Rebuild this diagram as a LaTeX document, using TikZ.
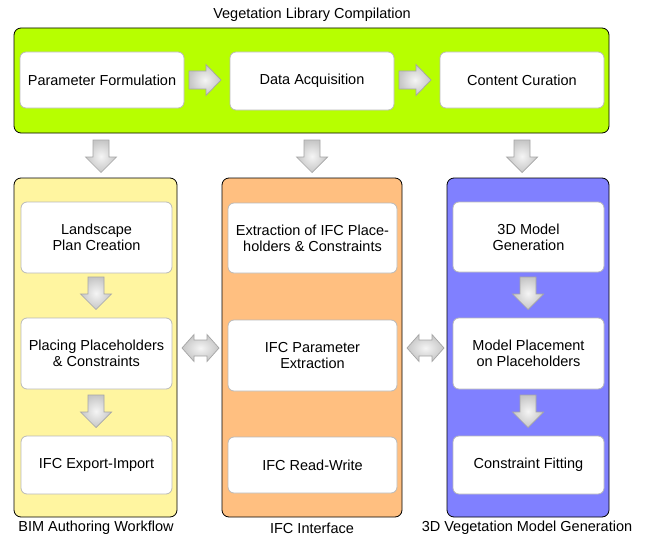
\documentclass[tikz,border=0pt]{standalone}
\usepackage{fontspec}
\setmainfont{Liberation Sans}
\definecolor{limeg}{RGB}{183,255,0}
\definecolor{yell}{RGB}{255,245,160}
\definecolor{oran}{RGB}{255,191,128}
\definecolor{blu}{RGB}{128,128,255}
\definecolor{boxedge}{RGB}{185,185,185}
\definecolor{arrowedge}{RGB}{165,165,165}
\begin{document}
\begin{tikzpicture}[x=1pt,y=-1pt,
  every node/.style={font=\fontsize{14.5}{16}\selectfont, align=center, inner sep=0pt},
  panel/.style={draw=black, line width=0.8pt, rounded corners=7pt},
  wbox/.style={draw=boxedge, fill=white, line width=0.8pt, rounded corners=6pt},
  blk/.style={draw=arrowedge, line width=0.7pt, inner color=gray!8, outer color=gray!45},
  darr/.pic={\path[blk] (-8,0) -- (8,0) -- (8,17) -- (15.5,17) -- (0,32.5) -- (-15.5,17) -- (-8,17) -- cycle;},
  rarr/.pic={\path[blk] (0,-9) -- (17,-9) -- (17,-15.5) -- (32,0) -- (17,15.5) -- (17,9) -- (0,9) -- cycle;},
  lrarr/.pic={\path[blk] (0,0) -- (12,-13.5) -- (12,-8) -- (25,-8) -- (25,-13.5) -- (37,0) -- (25,13.5) -- (25,8) -- (12,8) -- (12,13.5) -- cycle;}
]
\useasboundingbox (0,0) rectangle (645,535);

% top panel
\node[panel, fill=limeg, minimum width=595pt, minimum height=105pt] (lib) at (311.5,80.5) {};
\node (libt) at (312,15) {Vegetation Library Compilation};
\node[wbox, minimum width=164pt, minimum height=56pt] (pf) at (102,80) {Parameter Formulation};
\node[wbox, minimum width=164pt, minimum height=58pt] (da) at (312,81) {Data Acquisition};
\node[wbox, minimum width=164pt, minimum height=56pt] (cc) at (522,80) {Content Curation};
\coordinate (a1) at (189,80);
\coordinate (a2) at (399,80);
\pic at (a1) {rarr};
\pic at (a2) {rarr};

% down arrows from library
\coordinate (d1) at (101,140);
\coordinate (d2) at (312,140);
\coordinate (d3) at (522,140);
\pic at (d1) {darr};
\pic at (d2) {darr};
\pic at (d3) {darr};

% columns
\node[panel, fill=yell, minimum width=163pt, minimum height=339pt] (bim) at (95.5,347.5) {};
\node[panel, fill=oran, minimum width=180pt, minimum height=339pt] (ifc) at (312,347.5) {};
\node[panel, fill=blu, minimum width=162pt, minimum height=339pt] (veg) at (528,347.5) {};

% yellow column
\node[wbox, minimum width=151pt, minimum height=71pt] (lpc) at (96.5,237.5) {Landscape\\Plan Creation};
\node[wbox, minimum width=151pt, minimum height=71pt] (ppc) at (96.5,353.5) {Placing Placeholders\\\& Constraints};
\node[wbox, minimum width=151pt, minimum height=58pt] (iei) at (96.5,465) {IFC Export-Import};
\coordinate (y1) at (96,277);
\coordinate (y2) at (96,395);
\pic at (y1) {darr};
\pic at (y2) {darr};

% orange column
\node[wbox, minimum width=169pt, minimum height=70pt] (eipc) at (312.5,238) {Extraction of IFC Place-\\holders \& Constraints};
\node[wbox, minimum width=169pt, minimum height=71pt] (ipe) at (312.5,355.5) {IFC Parameter\\Extraction};
\node[wbox, minimum width=169pt, minimum height=56pt] (irw) at (312.5,465) {IFC Read-Write};

% blue column
\node[wbox, minimum width=151pt, minimum height=70pt] (mg) at (528.5,237) {3D Model\\Generation};
\node[wbox, minimum width=151pt, minimum height=71pt] (mpp) at (528.5,353.5) {Model Placement\\on Placeholders};
\node[wbox, minimum width=151pt, minimum height=58pt] (cf) at (528.5,465) {Constraint Fitting};
\coordinate (b1) at (528,277);
\coordinate (b2) at (528,395);
\pic at (b1) {darr};
\pic at (b2) {darr};

% double arrows
\coordinate (h1) at (182,348);
\coordinate (h2) at (407,348);
\pic at (h1) {lrarr};
\pic at (h2) {lrarr};

% labels
\node (lb1) at (96,528) {BIM Authoring Workflow};
\node (lb2) at (312,528) {IFC Interface};
\node (lb3) at (527,528) {3D Vegetation Model Generation};
\end{tikzpicture}
\end{document}
